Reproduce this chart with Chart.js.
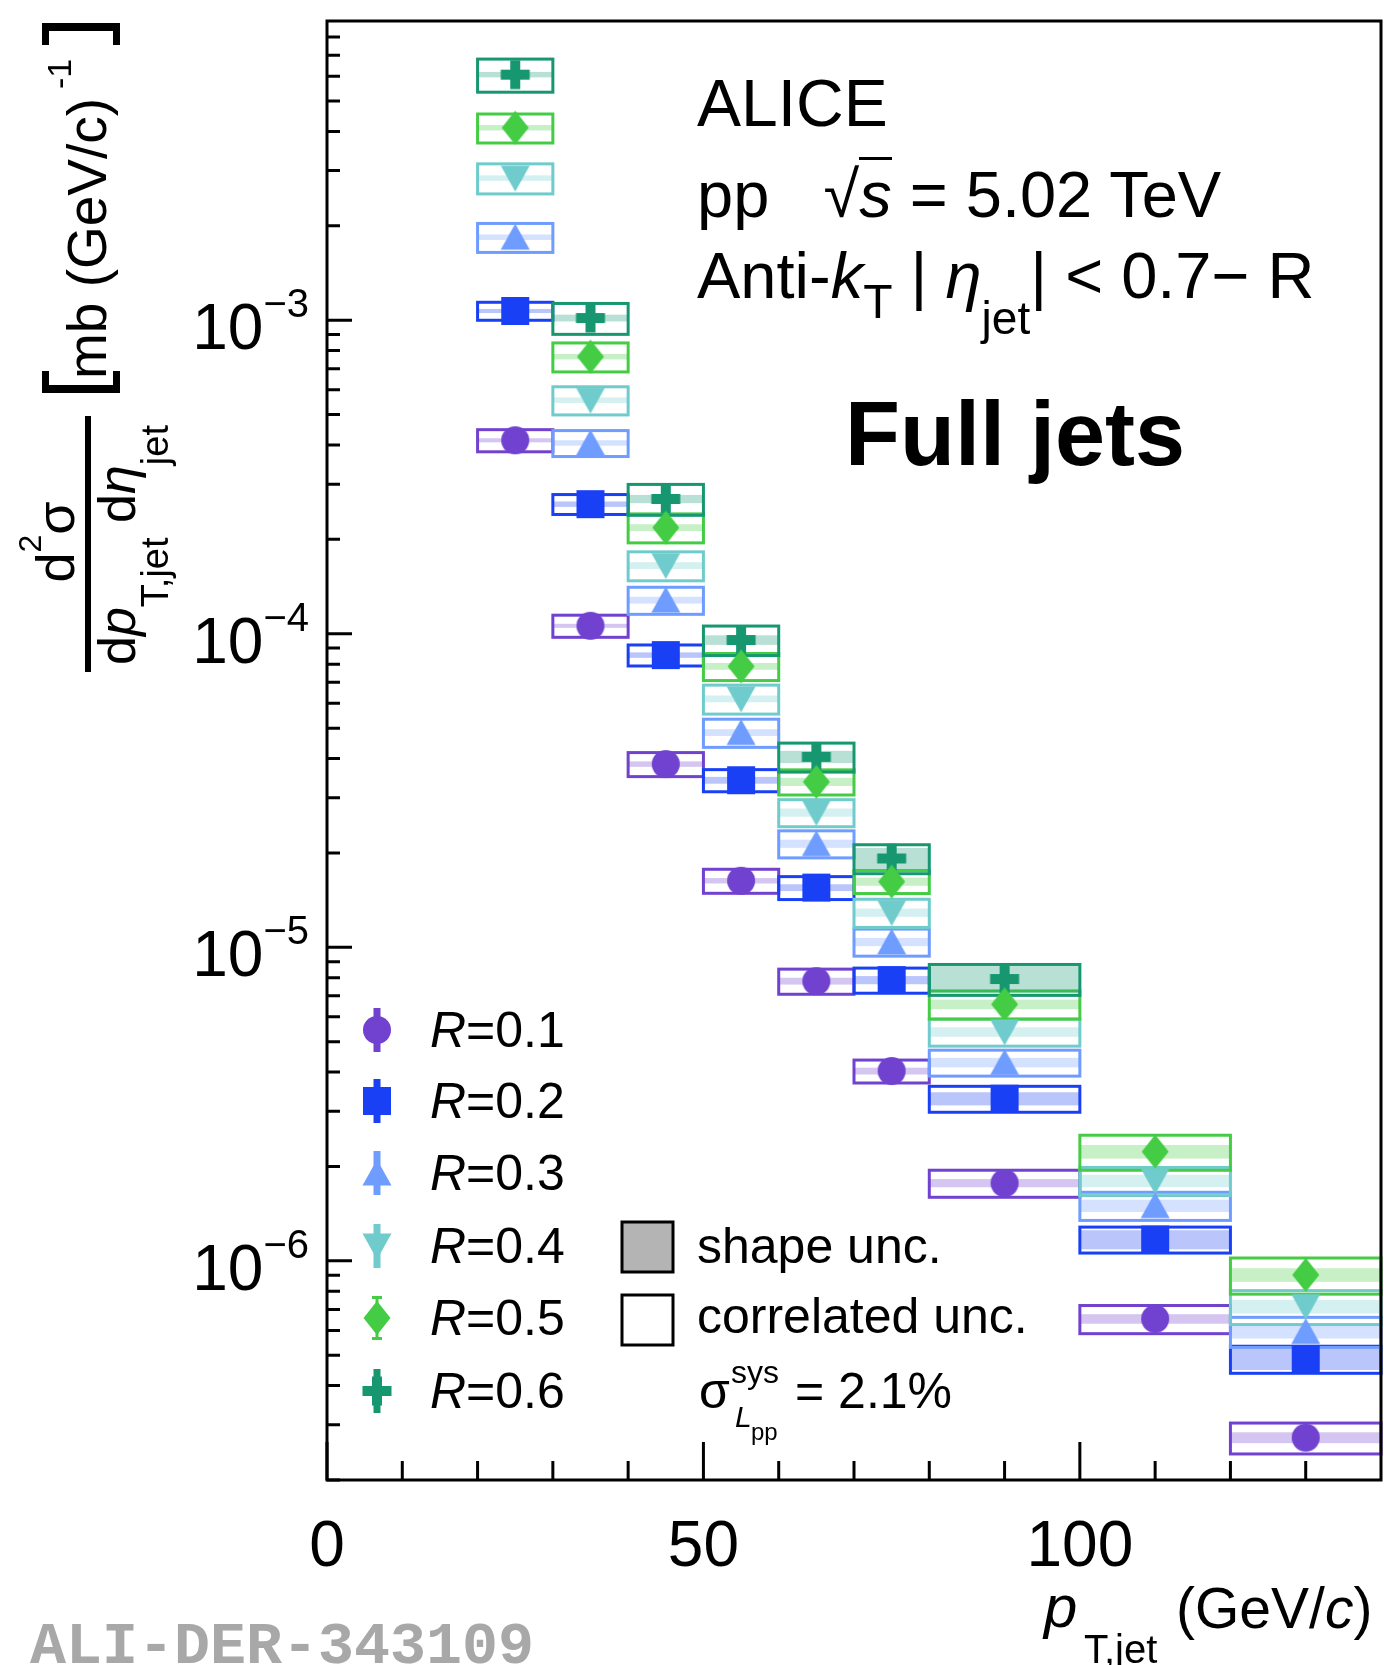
<!DOCTYPE html>
<html>
<head>
<meta charset="utf-8">
<script src="https://cdn.jsdelivr.net/npm/chart.js@4.4.1/dist/chart.umd.min.js"></script>
<style>
html, body { margin: 0; padding: 0; background: #fff; }
#wrap { position: relative; width: 1384px; height: 1665px; overflow: hidden;
        font-family: "Liberation Sans", Arial, Helvetica, sans-serif; color: #000; }
#chart { position: absolute; left: 0; top: 0; }
.t { position: absolute; line-height: 1; white-space: nowrap; }
.t span, .t sub, .t sup { line-height: 0; }
.rot { position: absolute; transform: rotate(-90deg); }
</style>
</head>
<body>
<div id="wrap">
  <canvas id="chart" width="1384" height="1665" style="width:1384px;height:1665px"></canvas>
</div>
<script>
// pT bins (GeV/c)
const binLo = [20, 30, 40, 50, 60, 70, 80, 100, 120];
const binHi = [30, 40, 50, 60, 70, 80, 100, 120, 140];

// d2sigma/dpT deta (mb (GeV/c)^-1)
const xsR01 = [4.14e-4, 1.06e-4, 3.84e-5, 1.63e-5, 7.8e-6, 4.03e-6, 1.77e-6, 6.53e-7, 2.73e-7];
const xsR02 = [1.07e-3, 2.59e-4, 8.55e-5, 3.41e-5, 1.55e-5, 7.86e-6, 3.29e-6, 1.17e-6, 4.86e-7];
const xsR03 = [1.84e-3, 4.06e-4, 1.28e-4, 4.84e-5, 2.14e-5, 1.04e-5, 4.29e-6, 1.50e-6, 5.95e-7];
const xsR04 = [2.84e-3, 5.56e-4, 1.65e-4, 6.20e-5, 2.69e-5, 1.29e-5, 5.37e-6, 1.80e-6, 7.15e-7];
const xsR05 = [4.11e-3, 7.65e-4, 2.18e-4, 7.87e-5, 3.37e-5, 1.62e-5, 6.58e-6, 2.23e-6, 9.02e-7];
const xsR06 = [6.07e-3, 1.016e-3, 2.69e-4, 9.55e-5, 4.05e-5, 1.92e-5, 7.92e-6];

// correlated systematic uncertainty (%), outlined boxes
const corrR01 = [8.1, 8.1, 8.8, 8.8, 9.2, 8.4, 9.9, 10.3, 11.3];
const corrR02 = [6.6, 7.3, 7.7, 8.1, 8.4, 9.2, 9.5, 9.5, 9.9];
const corrR03 = [10.6, 9.5, 9.9, 10.3, 9.9, 9.9, 9.5, 10.3, 11.0];
const corrR04 = [11.0, 10.3, 10.6, 10.6, 9.9, 10.3, 9.9, 10.3, 12.4];
const corrR05 = [10.6, 10.6, 10.6, 9.9, 9.2, 8.4, 10.3, 12.8, 13.2];
const corrR06 = [12.1, 11.3, 11.3, 10.8, 10.6, 10.6, 11.3];

// shape uncertainty (%), shaded bands
const shapeR01 = [1.5, 1.5, 2, 2, 2.5, 2.5, 3, 3.5, 4];
const shapeR02 = [1.5, 2, 2, 2.5, 2.5, 3, 4.8, 7, 7.7];
const shapeR03 = [2, 2, 2.5, 2.5, 3, 3, 3.5, 4.5, 5];
const shapeR04 = [2, 2, 2.5, 2.5, 3, 3, 3.5, 4.5, 5];
const shapeR05 = [2, 2, 2.5, 2.5, 3, 3, 3.5, 5, 5];
const shapeR06 = [2, 2.5, 3, 3.5, 4.5, 8, 10];

const seriesLabels = ['R=0.1', 'R=0.2', 'R=0.3', 'R=0.4', 'R=0.5', 'R=0.6'];
const seriesColors = ['#7142cf', '#1a40f5', '#6f9cff', '#70cccc', '#44cc44', '#169770'];
const seriesShapes = ['circle', 'square', 'up', 'down', 'diamond', 'cross'];

// axis ticks
const xMajor = [0, 50, 100];
const xTickLabels = ['0', '50', '100'];
const xMinor = [10, 20, 30, 40, 60, 70, 80, 90, 110, 120, 130];
const yMajor = [1e-6, 1e-5, 1e-4, 1e-3];
const yTickExp = ['\u22126', '\u22125', '\u22124', '\u22123'];
const yMinorMult = [2, 3, 4, 5, 6, 7, 8, 9];
const yDecades = [1e-7, 1e-6, 1e-5, 1e-4, 1e-3];

// plot frame in page pixels
const AREA = { left: 327, top: 21, right: 1381, bottom: 1480 };

const FONT = '"Liberation Sans", Arial, Helvetica, sans-serif';

const series = [
  { values: xsR01, corr: corrR01, shape: shapeR01 },
  { values: xsR02, corr: corrR02, shape: shapeR02 },
  { values: xsR03, corr: corrR03, shape: shapeR03 },
  { values: xsR04, corr: corrR04, shape: shapeR04 },
  { values: xsR05, corr: corrR05, shape: shapeR05 },
  { values: xsR06, corr: corrR06, shape: shapeR06 }
].map((s, i) => ({ ...s, label: seriesLabels[i], color: seriesColors[i], marker: markerCanvas(seriesShapes[i], seriesColors[i]) }));

function markerCanvas(shape, color) {
  const W = 36, H = 40;
  const c = document.createElement('canvas');
  c.width = W; c.height = H;
  const g = c.getContext('2d');
  const cx = W / 2, cy = H / 2;
  g.fillStyle = color;
  g.beginPath();
  switch (shape) {
    case 'circle': g.arc(cx, cy, 14, 0, Math.PI * 2); break;
    case 'square': g.rect(cx - 14, cy - 14, 28, 28); break;
    case 'up': g.moveTo(cx, cy - 13.5); g.lineTo(cx + 14.5, cy + 12.5); g.lineTo(cx - 14.5, cy + 12.5); g.closePath(); break;
    case 'down': g.moveTo(cx, cy + 13.5); g.lineTo(cx + 14.5, cy - 12.5); g.lineTo(cx - 14.5, cy - 12.5); g.closePath(); break;
    case 'diamond': g.moveTo(cx, cy - 17); g.lineTo(cx + 13.5, cy); g.lineTo(cx, cy + 17); g.lineTo(cx - 13.5, cy); g.closePath(); break;
    case 'cross': g.rect(cx - 14.5, cy - 5, 29, 10); g.rect(cx - 5, cy - 14.5, 10, 29); break;
  }
  g.fill();
  return c;
}

function hexA(hex, a) {
  const n = parseInt(hex.slice(1), 16);
  return `rgba(${(n >> 16) & 255},${(n >> 8) & 255},${n & 255},${a})`;
}

// pin the plot area to the reference frame
const areaPlugin = {
  id: 'fixedArea',
  afterLayout(chart) {
    const a = chart.chartArea;
    Object.assign(a, AREA);
    a.width = AREA.right - AREA.left;
    a.height = AREA.bottom - AREA.top;
    const { x, y } = chart.scales;
    x.left = AREA.left; x.right = AREA.right; x.width = a.width; x.top = AREA.bottom;
    y.top = AREA.top; y.bottom = AREA.bottom; y.height = a.height; y.right = AREA.left;
    x.configure();
    y.configure();
  }
};

// systematic boxes: shaded shape band + outlined correlated box
const boxPlugin = {
  id: 'uncBoxes',
  beforeDatasetsDraw(chart) {
    const { ctx, scales: { x, y } } = chart;
    ctx.save();
    series.forEach(s => {
      s.values.forEach((v, i) => {
        const x0 = x.getPixelForValue(binLo[i]);
        const x1 = x.getPixelForValue(binHi[i]);
        const sh = s.shape[i] / 100, co = s.corr[i] / 100;
        const ys0 = y.getPixelForValue(v * (1 + sh)), ys1 = y.getPixelForValue(v * (1 - sh));
        ctx.fillStyle = hexA(s.color, 0.3);
        ctx.fillRect(x0, ys0, x1 - x0, ys1 - ys0);
        const yc0 = y.getPixelForValue(v * (1 + co)), yc1 = y.getPixelForValue(v * (1 - co));
        ctx.strokeStyle = s.color;
        ctx.lineWidth = 3;
        ctx.strokeRect(x0, yc0, x1 - x0, yc1 - yc0);
      });
    });
    ctx.restore();
  }
};

// frame, inward ticks and legend glyphs
const framePlugin = {
  id: 'frame',
  afterDatasetsDraw(chart) {
    const { ctx, chartArea: a, scales: { x, y } } = chart;
    ctx.save();
    ctx.strokeStyle = '#000';
    ctx.lineWidth = 3;
    ctx.strokeRect(a.left, a.top, a.right - a.left, a.bottom - a.top);
    ctx.beginPath();
    xMinor.forEach(v => { const p = x.getPixelForValue(v); ctx.moveTo(p, a.bottom); ctx.lineTo(p, a.bottom - 19); });
    xMajor.forEach(v => { const p = x.getPixelForValue(v); ctx.moveTo(p, a.bottom); ctx.lineTo(p, a.bottom - 38); });
    yMajor.forEach(v => { const p = y.getPixelForValue(v); ctx.moveTo(a.left, p); ctx.lineTo(a.left + 25, p); });
    yDecades.forEach(d => yMinorMult.forEach(m => {
      const v = d * m;
      if (v < y.min || v > y.max) return;
      const p = y.getPixelForValue(v);
      ctx.moveTo(a.left, p); ctx.lineTo(a.left + 13, p);
    }));
    ctx.stroke();

    // legend markers with error bars
    const lx = 377, ly = [1030, 1101, 1173, 1246, 1318, 1391];
    series.forEach((s, i) => {
      ctx.fillStyle = s.color;
      if (seriesShapes[i] === 'diamond') {
        ctx.fillRect(lx - 1.5, ly[i] - 21, 3, 42);
        ctx.fillRect(lx - 5, ly[i] - 22, 10, 3);
        ctx.fillRect(lx - 5, ly[i] + 19, 10, 3);
      } else {
        ctx.fillRect(lx - 3.5, ly[i] - 22, 7, 44);
      }
      ctx.drawImage(s.marker, lx - s.marker.width / 2, ly[i] - s.marker.height / 2);
    });
    // legend boxes for uncertainties
    ctx.lineWidth = 3;
    ctx.fillStyle = '#b4b4b4';
    ctx.fillRect(622, 1222, 51, 50);
    ctx.strokeRect(622, 1222, 51, 50);
    ctx.fillStyle = '#fff';
    ctx.fillRect(622, 1295, 51, 50);
    ctx.strokeRect(622, 1295, 51, 50);
    ctx.restore();
  }
};

function noPad(s) {
  s.paddingTop = 0; s.paddingBottom = 0; s.paddingLeft = 0; s.paddingRight = 0;
}

const chart = new Chart(document.getElementById('chart'), {
  type: 'scatter',
  data: {
    datasets: series.map(s => ({
      label: s.label,
      data: s.values.map((v, i) => ({ x: (binLo[i] + binHi[i]) / 2, y: v })),
      pointStyle: s.marker,
      pointRadius: 14,
      pointHoverRadius: 14,
      showLine: false
    }))
  },
  options: {
    responsive: false,
    animation: false,
    events: [],
    layout: { padding: { top: 21, right: 3, left: 0, bottom: 0 } },
    plugins: { legend: { display: false }, tooltip: { enabled: false } },
    scales: {
      x: {
        type: 'linear', min: 0, max: 140, position: 'bottom',
        grid: { display: false, drawTicks: false },
        border: { display: false },
        ticks: {
          color: '#000', font: { family: FONT, size: 64 }, padding: 30,
          maxRotation: 0, autoSkip: false,
          callback: v => { const i = xMajor.indexOf(v); return i < 0 ? '' : xTickLabels[i]; }
        },
        afterBuildTicks: s => { s.ticks = xMajor.map(v => ({ value: v })); },
        afterFit: s => { s.height = 185; noPad(s); }
      },
      y: {
        type: 'logarithmic', min: 2e-7, max: 9e-3, position: 'left',
        grid: { display: false, drawTicks: false },
        border: { display: false },
        ticks: { display: false },
        afterBuildTicks: s => { s.ticks = yMajor.map(v => ({ value: v })); },
        afterFit: s => { s.width = 327; noPad(s); }
      }
    }
  },
  plugins: [areaPlugin, boxPlugin, framePlugin]
});

// ---- text overlays ----
const wrap = document.getElementById('wrap');
function addText(html, left, baseline, size, extra, parent, k) {
  const d = document.createElement('div');
  d.className = 't';
  d.innerHTML = html;
  d.style.left = left + 'px';
  d.style.top = (baseline - (k || 0.8465) * size) + 'px';
  d.style.fontSize = size + 'px';
  if (extra) Object.assign(d.style, extra);
  (parent || wrap).appendChild(d);
  return d;
}

// y tick labels 10^n, placed from the log scale
yMajor.forEach((v, i) => {
  const p = chart.scales.y.getPixelForValue(v);
  addText('10<span style="font-size:40px;vertical-align:32px">' + yTickExp[i] + '</span>', 0, p + 29, 64,
          { width: '309px', textAlign: 'right' });
});

addText('ALICE', 697, 126, 66);
addText('pp&nbsp;&nbsp;&nbsp;\u221A<span style="border-top:3px solid #000;display:inline-block;line-height:1;padding-top:2px"><i>s</i></span> = 5.02 TeV', 697, 212, 65);
addText('Anti-<i>k</i><span style="font-size:48px;vertical-align:-20px">T</span> | <i>\u03B7</i><span style="font-size:46px;vertical-align:-36px">jet</span>| &lt; 0.7\u2212 R', 697, 298, 65);
addText('Full jets', 845, 465, 90, { fontWeight: 'bold' });

const legendBase = [1047, 1118, 1190, 1263, 1335, 1408];
seriesLabels.forEach((l, i) => addText('<i>R</i>' + l.slice(1), 430, legendBase[i], 50));
addText('shape unc.', 697, 1263, 50);
addText('correlated unc.', 697, 1333, 50);
addText('\u03C3', 699, 1408, 50);
addText('sys', 731, 1383, 32);
addText('<i>L</i>', 735, 1427, 30);
addText('pp', 751, 1440, 24);
addText('= 2.1%', 795, 1408, 50);

// x-axis title
addText('<i>p</i>', 1044, 1628, 60);
addText('T,jet', 1084, 1663, 40);
addText('(GeV/<i>c</i>)', 1176, 1628, 57);

// y-axis title: fraction block, rotated
const frac = document.createElement('div');
frac.className = 'rot';
Object.assign(frac.style, { left: (97 - 150) + 'px', top: (545 - 100) + 'px', width: '300px', height: '200px' });
wrap.appendChild(frac);
addText('d<span style="font-size:32px;vertical-align:33px">2</span>\u03C3', 0, 77, 54, { width: '306px', textAlign: 'center' }, frac);
const bar = document.createElement('div');
Object.assign(bar.style, { position: 'absolute', left: '23px', top: '88px', width: '256px', height: '6px', background: '#000' });
frac.appendChild(bar);
addText('d<i>p</i><span style="font-size:38px;vertical-align:-33px">T,jet</span>&nbsp;d<i>\u03B7</i><span style="font-size:38px;vertical-align:-33px">jet</span>',
        0, 138, 52, { width: '300px', textAlign: 'center' }, frac);

// y-axis title: units in brackets, rotated
const unit = document.createElement('div');
unit.className = 'rot';
Object.assign(unit.style, { left: (81 - 200) + 'px', top: (207 - 60) + 'px', width: '400px', height: '120px' });
wrap.appendChild(unit);
const lb = document.createElement('div');
Object.assign(lb.style, { position: 'absolute', left: '14px', top: '21px', width: '22px', height: '78px', boxSizing: 'border-box',
  borderLeft: '8px solid #000', borderTop: '7px solid #000', borderBottom: '7px solid #000' });
unit.appendChild(lb);
addText('mb (GeV/c)', 28, 86, 55, null, unit);
addText('-1', 318, 50, 34, null, unit);
const rb = document.createElement('div');
Object.assign(rb.style, { position: 'absolute', left: '362px', top: '21px', width: '22px', height: '78px', boxSizing: 'border-box',
  borderRight: '8px solid #000', borderTop: '7px solid #000', borderBottom: '7px solid #000' });
unit.appendChild(rb);

// watermark
addText('ALI-DER-343109', 30, 1663, 60, { fontFamily: '"Liberation Mono", "DejaVu Sans Mono", monospace', fontWeight: 'bold', color: '#a8a8a8' }, null, 0.7665);
</script>
</body>
</html>
